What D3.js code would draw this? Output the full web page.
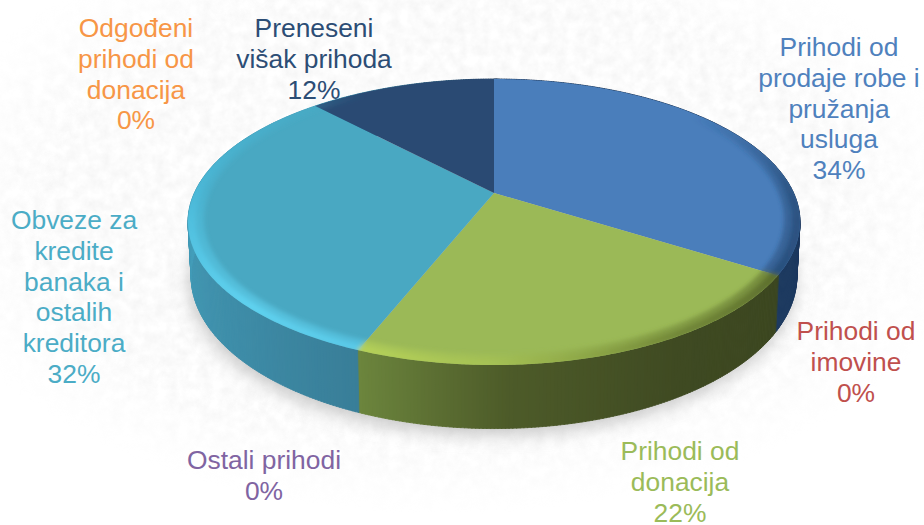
<!DOCTYPE html>
<html>
<head>
<meta charset="utf-8">
<script src="https://cdn.jsdelivr.net/npm/d3@7"></script>
<style>
  html, body { margin: 0; padding: 0; background: #fff; }
  svg { display: block; }
  .label { font-family: "Liberation Sans", Arial, sans-serif; font-size: 26.4px; text-anchor: middle; }
</style>
</head>
<body>
<script>
var categories = ["Prihodi od prodaje robe i pružanja usluga", "Prihodi od imovine", "Prihodi od donacija",
                  "Ostali prihodi", "Obveze za kredite banaka i ostalih kreditora", "Odgođeni prihodi od donacija",
                  "Preneseni višak prihoda"];
var values = [34, 0, 22, 0, 32, 0, 12];
var labelLines = [
  ["Prihodi od", "prodaje robe i", "pružanja", "usluga"],
  ["Prihodi od", "imovine"],
  ["Prihodi od", "donacija"],
  ["Ostali prihodi"],
  ["Obveze za", "kredite", "banaka i", "ostalih", "kreditora"],
  ["Odgođeni", "prihodi od", "donacija"],
  ["Preneseni", "višak prihoda"]
];
var faceColors = ["#4a7ebb", "#c0504d", "#9bb957", "#8064a2", "#49a8c2", "#f79646", "#2a4a73"];
var textColors = ["#4f81bd", "#c0504d", "#9bbb59", "#8064a2", "#4bacc6", "#f79646", "#2c4d75"];
var labelX = [839, 856, 680, 264, 74, 136, 314];
var labelY = [56, 340, 460, 469, 229, 37, 37];

var width = 924, height = 525;

// perspective tilt of the disc, fitted to the reference outline
var cx = 494, cy = 193, radiusX = 299.6, radiusY = 137.1, tilt = 0.203, depth = 52, bottomScale = 0.99;

function project(angle, r, drop, s) {
  var u = Math.sin(angle) * r, v = -Math.cos(angle) * r;
  var w = 1 - tilt * v;
  return [cx + s * radiusX * u / w, cy + (s * radiusY * v + drop) / w];
}
function topPoint(a, r) { return project(a, r === undefined ? 1 : r, 0, 1); }
function bottomPoint(a) { return project(a, 1, depth, bottomScale); }

var line = d3.line();
var pieData = d3.pie().sort(null).value(function(d) { return d; })(values);

function anglesOf(d, step) {
  return d3.range(d.startAngle, d.endAngle, step).concat([d.endAngle]);
}

var wallShade = d3.scaleLinear()
  .domain([0, 122.3, 122.4, 150, 178, 201.5, 201.7, 225, 270, 316.8, 360])
  .range(["#1b3557", "#1d3a60", "#3b4620", "#3f4a22", "#4d5b29", "#6c853d", "#397e98", "#3d8ba6", "#45a0bc", "#45a0bc", "#1b3557"]);
var rimShade = d3.scaleLinear()
  .domain([0, 122.3, 122.4, 150, 180, 201.5, 201.7, 225, 270, 316.8, 360])
  .range(["#2f5a8a", "#274c78", "#566729", "#6f8436", "#a6c254", "#b8d45a", "#5ccdec", "#62d6f4", "#4cbcdc", "#49b0cc", "#2a4a73"]);
var rimOpacity = d3.scaleLinear()
  .domain([0, 50, 90, 122, 150, 260, 300, 330, 360])
  .range([0, 0, 1, 1, 1, 1, 0.6, 0, 0]);

var svg = d3.select("body").append("svg").attr("width", width).attr("height", height);
var defs = svg.append("defs");

// mottled paper behind the chart
var paper = defs.append("filter").attr("id", "paper").attr("x", 0).attr("y", 0).attr("width", "100%").attr("height", "100%");
paper.append("feTurbulence").attr("type", "fractalNoise").attr("baseFrequency", 0.09).attr("numOctaves", 3).attr("seed", 4);
paper.append("feColorMatrix").attr("type", "matrix")
  .attr("values", "0 0 0 0 0.88  0 0 0 0 0.88  0 0 0 0 0.88  1.2 0 0 0 -0.33");

var fade = defs.append("radialGradient").attr("id", "fade").attr("cx", "48%").attr("cy", "40%").attr("r", "58%");
fade.append("stop").attr("offset", "72%").attr("stop-color", "#fff");
fade.append("stop").attr("offset", "100%").attr("stop-color", "#000");
defs.append("mask").attr("id", "fadeMask").append("rect")
  .attr("width", width).attr("height", height).attr("fill", "url(#fade)");

defs.append("filter").attr("id", "soft").attr("x", "-10%").attr("y", "-10%").attr("width", "120%").attr("height", "130%")
  .append("feGaussianBlur").attr("stdDeviation", 9);
defs.append("filter").attr("id", "rimBlur").attr("x", "-5%").attr("y", "-5%").attr("width", "110%").attr("height", "110%")
  .append("feGaussianBlur").attr("stdDeviation", 2);

svg.append("g").attr("mask", "url(#fadeMask)").append("rect")
  .attr("width", width).attr("height", height).attr("filter", "url(#paper)");

var circleAngles = d3.range(0, 2 * Math.PI + 0.01, 0.01);

defs.append("clipPath").attr("id", "faceClip").append("path")
  .attr("d", line(circleAngles.map(function(a) { return topPoint(a); })) + "Z");

// drop shadow under the disc
svg.append("path")
  .attr("d", line(circleAngles.map(function(a) {
    var p = bottomPoint(a);
    return [p[0] - 2, p[1] + 6];
  })) + "Z")
  .attr("fill", "#8f8f8f")
  .attr("opacity", 0.5)
  .attr("filter", "url(#soft)");

// outer wall, strip by strip so the shade can change along it
var step = 0.012;
var strips = [];
circleAngles.forEach(function(a) {
  strips.push({a0: a, a1: a + step});
});
svg.append("g").selectAll("path").data(strips).enter().append("path")
  .attr("d", function(d) {
    return line([topPoint(d.a0), topPoint(d.a1), bottomPoint(d.a1), bottomPoint(d.a0)]) + "Z";
  })
  .attr("fill", function(d) { return wallShade((d.a0 + d.a1) / 2 * 180 / Math.PI % 360); })
  .attr("stroke", function(d) { return wallShade((d.a0 + d.a1) / 2 * 180 / Math.PI % 360); })
  .attr("stroke-width", 0.8);

// top face
svg.append("g").selectAll("path").data(pieData.filter(function(d) { return d.value > 0; })).enter().append("path")
  .attr("d", function(d) {
    var edge = anglesOf(d, 0.01).map(function(a) { return topPoint(a); });
    return line([[cx, cy]].concat(edge)) + "Z";
  })
  .attr("fill", function(d) { return faceColors[d.index]; });

// bevel along the front rim
var rimBands = [
  {inner: 0.975, outer: 1.01, opacity: 0.9},
  {inner: 0.95, outer: 0.975, opacity: 0.5}
];
var rim = svg.append("g").attr("clip-path", "url(#faceClip)").append("g").attr("filter", "url(#rimBlur)");
rimBands.forEach(function(band) {
  rim.append("g").selectAll("path").data(strips).enter().append("path")
    .attr("d", function(d) {
      return line([topPoint(d.a0, band.inner), topPoint(d.a1, band.inner), topPoint(d.a1, band.outer), topPoint(d.a0, band.outer)]) + "Z";
    })
    .attr("fill", function(d) { return rimShade((d.a0 + d.a1) / 2 * 180 / Math.PI % 360); })
    .attr("opacity", function(d) { return band.opacity * rimOpacity((d.a0 + d.a1) / 2 * 180 / Math.PI % 360); });
});

// labels
var lineGap = 30.8;
var labels = svg.append("g").selectAll("text").data(categories).enter().append("text")
  .attr("class", "label")
  .attr("fill", function(d, i) { return textColors[i]; })
  .attr("y", function(d, i) { return labelY[i]; });
labels.each(function(d, i) {
  var rows = labelLines[i].concat([values[i] + "%"]);
  d3.select(this).selectAll("tspan").data(rows).enter().append("tspan")
    .attr("x", labelX[i])
    .attr("dy", function(r, j) { return j === 0 ? 0 : lineGap; })
    .text(function(r) { return r; });
});
</script>
</body>
</html>
